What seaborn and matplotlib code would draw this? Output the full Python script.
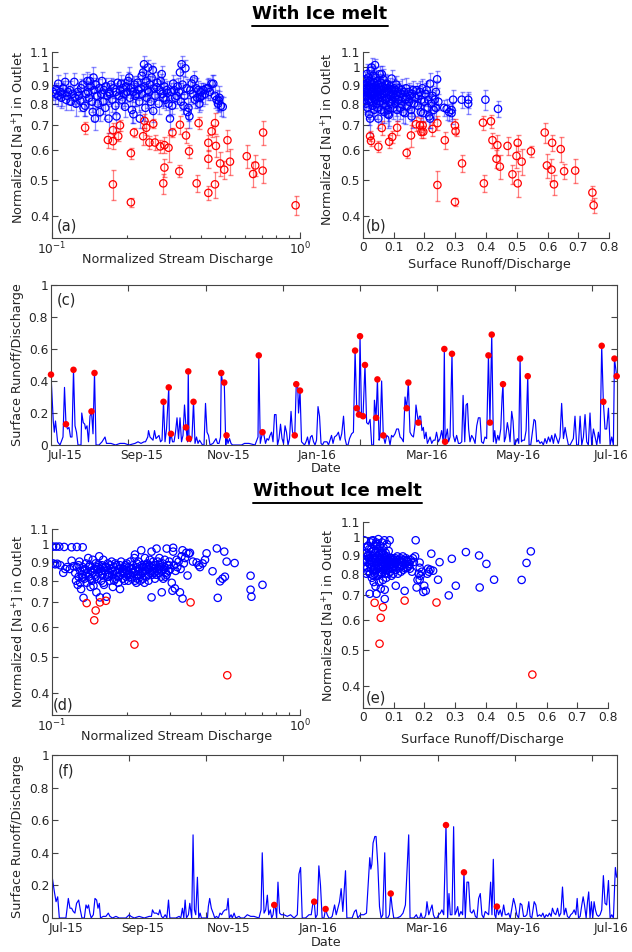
import numpy as np
import seaborn as sns
import matplotlib.pyplot as plt
import matplotlib as mpl
from matplotlib.lines import Line2D
from matplotlib.ticker import FixedLocator, FixedFormatter, NullFormatter, NullLocator, LogLocator

sns.set_style('ticks')
mpl.rcParams['font.family'] = ['DejaVu Sans']
mpl.rcParams['mathtext.fontset'] = 'dejavusans'

BLUE = '#0000ff'
RED = '#ff0000'
INK = '#262626'

# ---------------- axis ticks / labels ----------------
na_ticks = [0.4, 0.5, 0.6, 0.7, 0.8, 0.9, 1.0, 1.1]
na_tick_labels = ['0.4', '0.5', '0.6', '0.7', '0.8', '0.9', '1', '1.1']
q_ticks = [0.1, 1.0]
q_tick_labels = ['$10^{-1}$', '$10^{0}$']
sr_ticks = [0, 0.1, 0.2, 0.3, 0.4, 0.5, 0.6, 0.7, 0.8]
sr_tick_labels = ['0', '0.1', '0.2', '0.3', '0.4', '0.5', '0.6', '0.7', '0.8']
ts_yticks = [0, 0.2, 0.4, 0.6, 0.8, 1.0]
ts_ytick_labels = ['0', '0.2', '0.4', '0.6', '0.8', '1']
# days since start of record
tick_days = [51.5, 103, 154.5, 206, 257.5, 309, 360.5]
label_days = [9.3, 60.7, 118.2, 177.5, 250.4, 311.6, 373]
date_labels = ['Jul-15', 'Sep-15', 'Nov-15', 'Jan-16', 'Mar-16', 'May-16', 'Jul-16']

# ---------------- (a) with ice melt: Na vs discharge ----------------
a_blue_q = [0.101, 0.103, 0.104, 0.106, 0.106, 0.108, 0.109, 0.110, 0.111, 0.113,
            0.114, 0.115, 0.116, 0.118, 0.119, 0.121, 0.123, 0.124, 0.125, 0.127,
            0.128, 0.130, 0.131, 0.133, 0.134, 0.136, 0.137, 0.139, 0.140, 0.141,
            0.142, 0.143, 0.145, 0.146, 0.147, 0.148, 0.149, 0.150, 0.152, 0.153,
            0.155, 0.156, 0.158, 0.159, 0.161, 0.162, 0.164, 0.165, 0.167, 0.169,
            0.170, 0.171, 0.173, 0.175, 0.177, 0.180, 0.181, 0.182, 0.184, 0.186,
            0.188, 0.190, 0.191, 0.193, 0.195, 0.197, 0.199, 0.201, 0.203, 0.205,
            0.206, 0.208, 0.210, 0.212, 0.213, 0.215, 0.217, 0.219, 0.221, 0.223,
            0.225, 0.226, 0.228, 0.230, 0.231, 0.233, 0.235, 0.236, 0.238, 0.240,
            0.241, 0.243, 0.244, 0.246, 0.248, 0.250, 0.252, 0.255, 0.256, 0.258,
            0.261, 0.264, 0.266, 0.269, 0.272, 0.274, 0.277, 0.279, 0.281, 0.284,
            0.287, 0.290, 0.292, 0.295, 0.299, 0.302, 0.305, 0.308, 0.311, 0.314,
            0.318, 0.321, 0.325, 0.328, 0.331, 0.333, 0.336, 0.339, 0.342, 0.345,
            0.349, 0.352, 0.355, 0.358, 0.361, 0.366, 0.370, 0.374, 0.377, 0.381,
            0.385, 0.389, 0.393, 0.395, 0.398, 0.403, 0.408, 0.414, 0.420, 0.427,
            0.433, 0.440, 0.447, 0.454, 0.461, 0.467, 0.470, 0.473, 0.480, 0.488]
a_blue_na = [0.86, 0.85, 0.87, 0.84, 0.905, 0.86, 0.83, 0.85, 0.88, 0.915,
             0.82, 0.84, 0.86, 0.87, 0.81, 0.85, 0.915, 0.83, 0.80, 0.86,
             0.84, 0.815, 0.88, 0.90, 0.78, 0.79, 0.85, 0.92, 0.86, 0.83,
             0.92, 0.89, 0.81, 0.76, 0.94, 0.87, 0.73, 0.90, 0.84, 0.80,
             0.88, 0.76, 0.85, 0.92, 0.81, 0.87, 0.78, 0.89, 0.84, 0.73,
             0.86, 0.85, 0.90, 0.82, 0.88, 0.79, 0.86, 0.74, 0.91, 0.84,
             0.87, 0.905, 0.82, 0.88, 0.85, 0.785, 0.89, 0.86, 0.92, 0.94,
             0.83, 0.88, 0.77, 0.86, 0.75, 0.90, 0.84, 0.85, 0.91, 0.87,
             0.81, 0.73, 0.88, 0.95, 0.85, 0.97, 1.02, 0.89, 0.78, 0.92,
             0.83, 0.87, 1.00, 0.86, 0.90, 0.81, 0.94, 0.985, 0.765, 0.88,
             0.84, 0.885, 0.91, 0.80, 0.87, 0.92, 0.96, 0.85, 0.83, 0.89,
             0.82, 0.87, 0.855, 0.80, 0.73, 0.86, 0.79, 0.905, 0.87, 0.83,
             0.84, 0.89, 0.86, 0.97, 0.81, 1.02, 0.90, 0.79, 0.84, 0.995,
             0.88, 0.76, 0.78, 0.74, 0.87, 0.905, 0.85, 0.93, 0.82, 0.88,
             0.83, 0.87, 0.80, 0.83, 0.86, 0.84, 0.87, 0.85, 0.88, 0.88,
             0.86, 0.905, 0.905, 0.84, 0.82, 0.80, 0.815, 0.83, 0.79, 0.785]
a_blue_err = [0.04, 0.05, 0.04, 0.05, 0.05, 0.04, 0.05, 0.06, 0.04, 0.05,
              0.05, 0.04, 0.06, 0.05, 0.04, 0.05, 0.05, 0.04, 0.06, 0.05,
              0.04, 0.05, 0.05, 0.06, 0.04, 0.05, 0.04, 0.05, 0.06, 0.05,
              0.04, 0.05, 0.05, 0.04, 0.06, 0.05, 0.05, 0.04, 0.05, 0.06,
              0.05, 0.04, 0.05, 0.05, 0.06, 0.04, 0.05, 0.05, 0.04, 0.06,
              0.05, 0.05, 0.04, 0.06, 0.05, 0.04, 0.05, 0.05, 0.06, 0.04,
              0.05, 0.05, 0.04, 0.05, 0.06, 0.05, 0.04, 0.05, 0.05, 0.06,
              0.04, 0.05, 0.06, 0.05, 0.04, 0.05, 0.05, 0.06, 0.04, 0.05,
              0.05, 0.04, 0.05, 0.06, 0.05, 0.04, 0.05, 0.05, 0.06, 0.04,
              0.05, 0.06, 0.05, 0.04, 0.05, 0.05, 0.06, 0.04, 0.05, 0.05,
              0.04, 0.05, 0.06, 0.05, 0.05, 0.04, 0.05, 0.06, 0.05, 0.04,
              0.05, 0.05, 0.04, 0.06, 0.05, 0.05, 0.04, 0.05, 0.06, 0.05,
              0.04, 0.05, 0.05, 0.06, 0.04, 0.05, 0.05, 0.04, 0.06, 0.05,
              0.05, 0.04, 0.05, 0.05, 0.06, 0.04, 0.05, 0.05, 0.04, 0.06,
              0.05, 0.05, 0.04, 0.06, 0.05, 0.05, 0.04, 0.05, 0.05, 0.06,
              0.04, 0.05, 0.05, 0.06, 0.05, 0.04, 0.05, 0.06, 0.05, 0.05]
a_red_q = [0.136, 0.168, 0.176, 0.176, 0.185, 0.188, 0.176, 0.208, 0.208, 0.214,
           0.233, 0.236, 0.240, 0.247, 0.256, 0.260, 0.273, 0.284, 0.295, 0.284,
           0.281, 0.306, 0.328, 0.326, 0.347, 0.357, 0.383, 0.390, 0.427, 0.427,
           0.427, 0.440, 0.454, 0.458, 0.454, 0.476, 0.495, 0.510, 0.522, 0.610,
           0.647, 0.660, 0.707, 0.710, 0.960]
a_red_na = [0.69, 0.64, 0.68, 0.635, 0.655, 0.70, 0.487, 0.436, 0.59, 0.67,
            0.655, 0.72, 0.69, 0.63, 0.707, 0.63, 0.615, 0.62, 0.61, 0.54,
            0.49, 0.67, 0.703, 0.528, 0.658, 0.597, 0.49, 0.71, 0.629, 0.57,
            0.462, 0.675, 0.71, 0.617, 0.487, 0.554, 0.533, 0.639, 0.56, 0.579,
            0.519, 0.547, 0.53, 0.67, 0.428]
a_red_err = [0.025, 0.03, 0.03, 0.03, 0.02, 0.025, 0.045, 0.012, 0.02, 0.02,
             0.035, 0.03, 0.03, 0.025, 0.02, 0.03, 0.025, 0.03, 0.05, 0.03,
             0.03, 0.02, 0.04, 0.02, 0.03, 0.025, 0.025, 0.025, 0.03, 0.03,
             0.02, 0.025, 0.045, 0.04, 0.04, 0.04, 0.03, 0.04, 0.045, 0.04,
             0.04, 0.035, 0.04, 0.05, 0.025]

# ---------------- (b) with ice melt: Na vs surface runoff fraction ----------------
b_blue_sr = [0.002, 0.004, 0.005, 0.006, 0.008, 0.009, 0.010, 0.011, 0.012, 0.013,
             0.014, 0.015, 0.016, 0.017, 0.018, 0.019, 0.020, 0.021, 0.022, 0.023,
             0.024, 0.025, 0.026, 0.027, 0.028, 0.029, 0.030, 0.031, 0.032, 0.033,
             0.034, 0.035, 0.036, 0.037, 0.038, 0.039, 0.040, 0.041, 0.042, 0.043,
             0.044, 0.045, 0.046, 0.047, 0.048, 0.049, 0.050,
             0.051, 0.052, 0.054, 0.055, 0.056, 0.058, 0.059, 0.060, 0.061, 0.062,
             0.064, 0.065, 0.066, 0.068, 0.069, 0.070, 0.072, 0.073, 0.074, 0.076,
             0.077, 0.078, 0.080, 0.081, 0.082, 0.084, 0.085, 0.086, 0.088, 0.090,
             0.091, 0.093, 0.094, 0.096, 0.098, 0.099,
             0.101, 0.103, 0.104, 0.106, 0.108, 0.109, 0.111, 0.113, 0.115, 0.117,
             0.120, 0.122, 0.124, 0.126, 0.128, 0.131, 0.133, 0.136, 0.138, 0.140,
             0.142, 0.145, 0.148, 0.150, 0.153, 0.156, 0.158, 0.160,
             0.163, 0.166, 0.170, 0.174, 0.178, 0.181, 0.185, 0.188, 0.190, 0.193,
             0.196, 0.199, 0.203, 0.207, 0.210, 0.212, 0.215, 0.218, 0.218, 0.222,
             0.226, 0.230, 0.233, 0.237, 0.237, 0.241, 0.245,
             0.264, 0.272, 0.280, 0.288, 0.288, 0.293, 0.321, 0.342, 0.342, 0.398, 0.439]
b_blue_na = [0.87, 0.84, 0.90, 0.82, 0.93, 0.86, 0.80, 0.88, 0.96, 0.84,
             0.91, 0.78, 0.86, 0.94, 0.82, 0.89, 0.75, 0.87, 0.92, 0.73,
             0.85, 0.98, 0.81, 0.88, 1.00, 0.84, 0.90, 0.79, 0.86, 0.95,
             0.83, 0.88, 0.77, 0.91, 0.85, 1.015, 0.82, 0.89, 0.94, 0.80,
             0.87, 0.84, 0.92, 0.78, 0.86, 0.90, 0.73,
             0.83, 0.88, 0.96, 0.81, 0.85, 0.91, 0.77, 0.87, 0.96, 0.83,
             0.89, 0.80, 0.93, 0.85, 0.76, 0.88, 0.82, 0.90, 0.79, 0.86,
             0.905, 0.83, 0.88, 0.75, 0.77, 0.746, 0.86, 0.81, 0.89, 0.84,
             0.80, 0.934, 0.87, 0.82, 0.85, 0.78,
             0.88, 0.83, 0.87, 0.80, 0.90, 0.843, 0.77, 0.86, 0.82, 0.88,
             0.78, 0.85, 0.80, 0.87, 0.83, 0.76, 0.86, 0.755, 0.82, 0.88,
             0.835, 0.79, 0.86, 0.81, 0.84, 0.77, 0.74, 0.85,
             0.87, 0.80, 0.83, 0.87, 0.79, 0.84, 0.86, 0.76, 0.82, 0.88,
             0.755, 0.81, 0.85, 0.87, 0.78, 0.82, 0.74, 0.905, 0.73, 0.80,
             0.84, 0.77, 0.82, 0.86, 0.78, 0.93, 0.81,
             0.78, 0.775, 0.76, 0.755, 0.77, 0.82, 0.82, 0.82, 0.80, 0.82, 0.775]
b_blue_err = [0.05, 0.04, 0.05, 0.06, 0.04, 0.05, 0.05, 0.04, 0.06, 0.05,
              0.04, 0.05, 0.05, 0.06, 0.04, 0.05, 0.05, 0.04, 0.05, 0.06,
              0.05, 0.04, 0.05, 0.05, 0.06, 0.04, 0.05, 0.05, 0.04, 0.06,
              0.05, 0.05, 0.04, 0.06, 0.05, 0.04, 0.05, 0.05, 0.06, 0.04,
              0.05, 0.05, 0.04, 0.05, 0.06, 0.05, 0.04,
              0.05, 0.06, 0.05, 0.04, 0.05, 0.05, 0.06, 0.04, 0.05, 0.05,
              0.04, 0.05, 0.06, 0.05, 0.05, 0.04, 0.05, 0.06, 0.05, 0.04,
              0.05, 0.05, 0.04, 0.06, 0.05, 0.05, 0.04, 0.05, 0.05, 0.06,
              0.04, 0.05, 0.05, 0.06, 0.04, 0.05,
              0.05, 0.04, 0.05, 0.06, 0.05, 0.04, 0.05, 0.05, 0.06, 0.04,
              0.05, 0.05, 0.04, 0.06, 0.05, 0.05, 0.04, 0.05, 0.05, 0.06,
              0.04, 0.05, 0.05, 0.04, 0.06, 0.05, 0.05, 0.04,
              0.05, 0.06, 0.05, 0.04, 0.05, 0.05, 0.06, 0.04, 0.05, 0.05,
              0.04, 0.05, 0.06, 0.05, 0.04, 0.05, 0.05, 0.06, 0.04, 0.05,
              0.05, 0.04, 0.05, 0.06, 0.05, 0.05, 0.04,
              0.04, 0.05, 0.04, 0.05, 0.04, 0.05, 0.04, 0.04, 0.05, 0.05, 0.04]
b_red_sr = [0.023, 0.026, 0.050, 0.061, 0.085, 0.095, 0.111, 0.142, 0.156, 0.172,
            0.185, 0.190, 0.194, 0.196, 0.226, 0.242, 0.242, 0.266, 0.299, 0.301,
            0.299, 0.322, 0.390, 0.393, 0.416, 0.421, 0.434, 0.437, 0.445, 0.470,
            0.486, 0.499, 0.503, 0.503, 0.516, 0.546, 0.591, 0.598, 0.615, 0.613,
            0.621, 0.643, 0.654, 0.690, 0.746, 0.750]
b_red_na = [0.655, 0.636, 0.614, 0.689, 0.633, 0.652, 0.69, 0.591, 0.658, 0.705,
            0.701, 0.672, 0.70, 0.673, 0.685, 0.71, 0.485, 0.639, 0.70, 0.675,
            0.437, 0.554, 0.712, 0.49, 0.718, 0.639, 0.57, 0.62, 0.543, 0.617,
            0.518, 0.58, 0.629, 0.49, 0.56, 0.597, 0.67, 0.547, 0.629, 0.533,
            0.487, 0.605, 0.528, 0.53, 0.463, 0.428]
b_red_err = [0.02, 0.02, 0.02, 0.03, 0.025, 0.025, 0.03, 0.02, 0.045, 0.03,
             0.03, 0.025, 0.02, 0.025, 0.03, 0.03, 0.045, 0.035, 0.03, 0.02,
             0.012, 0.03, 0.03, 0.025, 0.03, 0.03, 0.03, 0.04, 0.04, 0.035,
             0.03, 0.04, 0.03, 0.04, 0.045, 0.02, 0.04, 0.04, 0.03, 0.035,
             0.03, 0.045, 0.025, 0.04, 0.02, 0.02]

# ---------------- (c) with ice melt time series ----------------
c_day = [0, 1.5, 2.2, 3, 4.4, 6, 8, 9, 10, 11, 12, 13, 14, 15, 16, 17, 18, 20, 20.5, 21.5,
         22.5, 23, 24, 25, 26, 27, 28, 29, 30, 32, 34, 36, 37, 40, 43, 46, 49, 52, 56, 58,
         60, 62, 63, 64.5, 65, 66, 67, 68, 69, 70, 71, 72, 73, 74, 75, 76, 77, 78.5, 79, 80,
         81, 82, 83, 84, 85, 86, 87, 88, 89, 90, 91, 91.5, 92, 93, 94, 95, 96, 97, 98, 99,
         101, 102, 103, 104, 105, 106, 108, 110, 111, 112, 113, 113.5, 114.5, 115.5, 116.5, 117, 118, 119, 120, 121,
         124, 127, 129, 132, 136, 138, 138.5, 139.5, 141, 142, 143, 144, 145, 146, 147, 148, 149, 150, 151, 152,
         153, 154, 155, 156, 157, 158, 159, 160, 161, 162.5, 163.5, 164.5, 165, 166, 167, 168, 169, 170, 171, 172,
         173, 174, 175, 176, 177, 178, 179, 180, 181, 182, 184, 185, 187, 188, 189, 190.4, 191.6, 192.7, 193.8, 195,
         196, 197, 198, 199, 200.4, 201.6, 202.7, 203.8, 205.3, 206, 207, 208, 209.3, 210.4, 211.5, 212.7, 213.8, 215, 215.6, 216.7,
         217.6, 218.7, 219.3, 220.4, 221.5, 222.7, 223.8, 225, 226, 227, 228, 229.3, 230.4, 231.6, 232.7, 233.8, 234.9, 236, 237.1, 238.2,
         239.3, 240.4, 241.6, 242.7, 243.3, 244.9, 245.6, 246.4, 247.3, 248.2, 249, 250, 250.9, 251.8, 252.7, 253.8, 254.9, 256, 257, 258.2,
         259.3, 260.4, 261.5, 262.2, 262.7, 264.2, 265, 266, 267.3, 268.2, 269.3, 270.4, 271.6, 272.7, 273.8, 274.7, 275.8, 276.7, 277.6, 278.4,
         279.3, 280.4, 281.6, 282.7, 283.8, 284.9, 286, 287, 288.2, 289.3, 290.4, 291.6, 292.6, 293.8, 294.9, 295.8, 296.7, 297.8, 298.7, 299.8,
         300.7, 301.3, 302.2, 303.1, 304.2, 305.1, 306, 307.1, 308, 308.9, 310, 310.9, 311.8, 312.7, 313.6, 314.4, 315.6, 316.7, 317.8, 318.7,
         319.8, 320.9, 322, 322.9, 323.8, 324.9, 326, 327.1, 328.2, 329.3, 330.4, 331.6, 332.7, 333.8, 334.9, 336, 337.1, 338.2, 339.3, 340.4,
         341.6, 342.7, 343.8, 344.9, 346, 347.1, 348.2, 349.3, 350.4, 351.6, 352.7, 353.8, 354.9, 356, 357.1, 358.2, 359.3, 360.4, 361.6, 362.7,
         363.8, 364.9, 366, 367.1, 368.2, 369.3, 370.4, 371.6, 372.7, 373.8, 374.9, 375.6, 377.1]
c_ratio = [0.44, 0.15, 0.08, 0.15, 0.02, 0.0, 0.05, 0.36, 0.13, 0.10, 0.11, 0.05, 0.05, 0.47, 0.12, 0.08, 0.0, 0.0, 0.20, 0.14,
           0.13, 0.10, 0.12, 0.02, 0.18, 0.21, 0.07, 0.45, 0.0, 0.0, 0.02, 0.05, 0.01, 0.01, 0.0, 0.01, 0.01, 0.0, 0.01, 0.02,
           0.01, 0.02, 0.02, 0.05, 0.09, 0.05, 0.04, 0.03, 0.09, 0.04, 0.05, 0.06, 0.02, 0.03, 0.27, 0.02, 0.10, 0.36, 0.01, 0.07,
           0.02, 0.02, 0.08, 0.17, 0.04, 0.17, 0.02, 0.06, 0.25, 0.11, 0.02, 0.46, 0.04, 0.02, 0.05, 0.27, 0.01, 0.05, 0.01, 0.03,
           0.0, 0.0, 0.26, 0.08, 0.06, 0.0, 0.01, 0.04, 0.01, 0.01, 0.05, 0.45, 0.38, 0.39, 0.0, 0.06, 0.01, 0.04, 0.01, 0.0,
           0.0, 0.0, 0.01, 0.01, 0.0, 0.05, 0.56, 0.01, 0.08, 0.06, 0.01, 0.04, 0.03, 0.06, 0.08, 0.02, 0.19, 0.19, 0.0, 0.04,
           0.13, 0.04, 0.01, 0.12, 0.08, 0.0, 0.04, 0.21, 0.08, 0.06, 0.38, 0.36, 0.20, 0.34, 0.02, 0.01, 0.0, 0.02, 0.05, 0.0,
           0.05, 0.06, 0.02, 0.0, 0.03, 0.24, 0.18, 0.01, 0.0, 0.02, 0.02, 0.0, 0.06, 0.01, 0.05, 0.06, 0.08, 0.03, 0.07, 0.18,
           0.04, 0.0, 0.0, 0.04, 0.07, 0.08, 0.59, 0.23, 0.19, 0.68, 0.17, 0.18, 0.50, 0.14, 0.13, 0.16, 0.0, 0.0, 0.28, 0.17,
           0.41, 0.03, 0.05, 0.40, 0.06, 0.01, 0.06, 0.05, 0.0, 0.06, 0.05, 0.07, 0.10, 0.10, 0.05, 0.04, 0.02, 0.30, 0.23, 0.39,
           0.08, 0.06, 0.05, 0.13, 0.25, 0.14, 0.18, 0.18, 0.09, 0.11, 0.04, 0.08, 0.01, 0.03, 0.05, 0.01, 0.03, 0.03, 0.08, 0.02,
           0.04, 0.09, 0.02, 0.60, 0.02, 0.10, 0.02, 0.05, 0.57, 0.06, 0.02, 0.06, 0.01, 0.01, 0.02, 0.31, 0.02, 0.25, 0.26, 0.10,
           0.02, 0.06, 0.04, 0.01, 0.12, 0.17, 0.17, 0.02, 0.01, 0.05, 0.04, 0.56, 0.14, 0.69, 0.02, 0.09, 0.01, 0.06, 0.03, 0.10,
           0.30, 0.38, 0.02, 0.05, 0.14, 0.09, 0.02, 0.21, 0.15, 0.0, 0.02, 0.04, 0.01, 0.54, 0.02, 0.03, 0.03, 0.09, 0.43, 0.0,
           0.0, 0.08, 0.16, 0.15, 0.02, 0.03, 0.01, 0.02, 0.0, 0.04, 0.01, 0.05, 0.02, 0.06, 0.01, 0.07, 0.04, 0.01, 0.05, 0.26,
           0.04, 0.11, 0.05, 0.0, 0.0, 0.02, 0.04, 0.18, 0.0, 0.0, 0.18, 0.0, 0.05, 0.19, 0.02, 0.0, 0.20, 0.0, 0.10, 0.05,
           0.0, 0.08, 0.01, 0.62, 0.27, 0.10, 0.10, 0.23, 0.0, 0.05, 0.0, 0.54, 0.43]
c_red_day = [0, 10, 15, 27, 29, 75, 78.5, 80, 90, 91.5, 92, 95, 113.5, 115.5, 117, 138.5, 141, 162.5, 163.5, 166,
             202.7, 203.8, 205.3, 206, 208, 209.3, 216.7, 217.6, 221.5, 237.1, 238.2, 244.9, 262.2, 262.7, 267.3,
             291.6, 292.6, 293.8, 301.3, 312.7, 317.8, 367.1, 368.2, 375.6, 377.1]
c_red_ratio = [0.44, 0.13, 0.47, 0.21, 0.45, 0.27, 0.36, 0.07, 0.11, 0.46, 0.04, 0.27, 0.45, 0.39, 0.06, 0.56, 0.08, 0.06, 0.38, 0.34,
               0.59, 0.23, 0.19, 0.68, 0.18, 0.50, 0.17, 0.41, 0.06, 0.23, 0.39, 0.14, 0.60, 0.02, 0.57,
               0.56, 0.14, 0.69, 0.38, 0.54, 0.43, 0.62, 0.27, 0.54, 0.43]

# ---------------- (d) without ice melt: Na vs discharge ----------------
d_blue_q = [0.101, 0.104, 0.107, 0.112, 0.120, 0.126, 0.133, 0.101, 0.103, 0.105,
            0.108, 0.111, 0.113, 0.115, 0.118, 0.120, 0.122,
            0.124, 0.125, 0.126, 0.127, 0.128, 0.129, 0.130, 0.131, 0.132, 0.133,
            0.134, 0.135, 0.136, 0.137, 0.138, 0.139, 0.140, 0.141, 0.142, 0.143,
            0.144, 0.145, 0.146, 0.147, 0.148, 0.149, 0.150, 0.151, 0.152, 0.153,
            0.154, 0.155, 0.156,
            0.157, 0.158, 0.159, 0.160, 0.161, 0.162, 0.163, 0.165, 0.166, 0.167,
            0.168, 0.170, 0.171, 0.172, 0.174, 0.175, 0.176, 0.178, 0.179, 0.180,
            0.182, 0.183, 0.185, 0.186, 0.188, 0.189, 0.190, 0.192, 0.193, 0.195,
            0.196, 0.198, 0.199,
            0.201, 0.203, 0.204, 0.206, 0.207, 0.209, 0.210, 0.212, 0.213, 0.215,
            0.216, 0.217, 0.219, 0.220, 0.222, 0.223, 0.225, 0.227, 0.229, 0.230,
            0.232, 0.233, 0.235, 0.237, 0.238, 0.240, 0.242, 0.244, 0.245, 0.247,
            0.249,
            0.251, 0.252, 0.252, 0.254, 0.256, 0.258, 0.260, 0.262, 0.264, 0.265,
            0.267, 0.269, 0.271, 0.273, 0.275, 0.277, 0.279, 0.281, 0.283, 0.285,
            0.288, 0.290, 0.292, 0.295, 0.297, 0.300, 0.304, 0.306, 0.308, 0.308,
            0.310, 0.313, 0.315, 0.318, 0.320, 0.324, 0.328, 0.330, 0.333, 0.336,
            0.336, 0.340, 0.344, 0.348, 0.352, 0.356, 0.360,
            0.370, 0.383, 0.390, 0.395, 0.405, 0.414, 0.420, 0.444, 0.462, 0.466,
            0.476, 0.487, 0.495, 0.498, 0.506, 0.545, 0.632, 0.632, 0.637, 0.706,
            0.128, 0.133, 0.137, 0.141, 0.146, 0.150, 0.154, 0.158, 0.161, 0.164,
            0.168, 0.172, 0.176, 0.180, 0.184, 0.188, 0.192, 0.196, 0.200, 0.204,
            0.208, 0.212, 0.216, 0.220, 0.224, 0.228, 0.232, 0.236, 0.240, 0.244,
            0.248, 0.253, 0.258, 0.263, 0.268, 0.273, 0.278, 0.284, 0.290, 0.296,
            0.130, 0.135, 0.143, 0.152, 0.160, 0.170, 0.178, 0.186, 0.194, 0.202,
            0.211, 0.221, 0.231, 0.241, 0.257, 0.270, 0.287]
d_blue_na = [0.987, 0.987, 0.987, 0.985, 0.983, 0.985, 0.983, 0.89, 0.885, 0.888,
             0.88, 0.84, 0.86, 0.87, 0.86, 0.905, 0.875,
             0.84, 0.80, 0.87, 0.78, 0.82, 0.90, 0.85, 0.76, 0.83, 0.87,
             0.72, 0.81, 0.86, 0.89, 0.79, 0.84, 0.92, 0.82, 0.88, 0.77,
             0.85, 0.80, 0.91, 0.775, 0.86, 0.83, 0.89, 0.745, 0.81, 0.87,
             0.84, 0.93, 0.722,
             0.86, 0.80, 0.88, 0.83, 0.91, 0.78, 0.85, 0.87, 0.725, 0.82,
             0.89, 0.84, 0.80, 0.86, 0.90, 0.83, 0.77, 0.87, 0.85, 0.81,
             0.88, 0.84, 0.79, 0.86, 0.76, 0.83, 0.90, 0.85, 0.81, 0.87,
             0.84, 0.88, 0.82,
             0.85, 0.80, 0.87, 0.83, 0.90, 0.86, 0.81, 0.88, 0.84, 0.92,
             0.94, 0.85, 0.79, 0.87, 0.83, 0.90, 0.86, 0.80, 0.965, 0.88,
             0.84, 0.81, 0.87, 0.92, 0.85, 0.82, 0.89, 0.86, 0.80, 0.88,
             0.84,
             0.87, 0.957, 0.722, 0.83, 0.90, 0.86, 0.81, 0.88, 0.975, 0.85,
             0.90, 0.84, 0.92, 0.87, 0.82, 0.745, 0.89, 0.81, 0.86, 0.91,
             0.84, 0.975, 0.88, 0.85, 0.90, 0.86, 0.79, 0.752, 0.98, 0.957,
             0.88, 0.763, 0.85, 0.91, 0.87, 0.90, 0.745, 0.86, 0.93, 0.965,
             0.717, 0.89, 0.92, 0.95, 0.826, 0.945, 0.95,
             0.90, 0.895, 0.88, 0.87, 0.89, 0.91, 0.947, 0.848, 0.976, 0.72,
             0.797, 0.81, 0.957, 0.82, 0.90, 0.892, 0.825, 0.757, 0.725, 0.78,
             0.88, 0.815, 0.83, 0.87, 0.84, 0.82, 0.88, 0.85, 0.79, 0.87,
             0.83, 0.88, 0.85, 0.89, 0.82, 0.88, 0.84, 0.80, 0.89, 0.84,
             0.82, 0.86, 0.80, 0.89, 0.85, 0.83, 0.87, 0.79, 0.88, 0.83,
             0.91, 0.85, 0.88, 0.83, 0.86, 0.89, 0.85, 0.87, 0.83, 0.88,
             0.79, 0.85, 0.81, 0.86, 0.87, 0.82, 0.80, 0.82, 0.86, 0.83,
             0.84, 0.81, 0.85, 0.87, 0.84, 0.86, 0.82]
d_red_q = [0.138, 0.148, 0.150, 0.156, 0.165, 0.215, 0.362, 0.509]
d_red_na = [0.697, 0.627, 0.666, 0.700, 0.707, 0.54, 0.70, 0.447]

# ---------------- (e) without ice melt: Na vs surface runoff fraction ----------------
e_blue_sr = [0.004, 0.006, 0.008, 0.010, 0.012, 0.014, 0.015, 0.016, 0.018, 0.019,
             0.020, 0.021, 0.022, 0.023, 0.024, 0.025, 0.026, 0.027, 0.028, 0.029,
             0.030, 0.031, 0.032, 0.033, 0.034, 0.035, 0.036, 0.037, 0.038, 0.039,
             0.040, 0.041, 0.042, 0.043, 0.044, 0.045, 0.046, 0.047, 0.048, 0.049,
             0.050, 0.051, 0.052, 0.053, 0.054, 0.055, 0.056, 0.057, 0.058, 0.059,
             0.060, 0.061, 0.062, 0.063, 0.064, 0.065, 0.066, 0.067, 0.068, 0.069,
             0.070, 0.071, 0.071, 0.072, 0.073, 0.074, 0.075, 0.076, 0.077, 0.078,
             0.079, 0.080, 0.082, 0.083, 0.084, 0.085, 0.087, 0.088, 0.089, 0.090,
             0.092, 0.093, 0.095, 0.096, 0.098, 0.099,
             0.101, 0.103, 0.105, 0.107, 0.108, 0.110, 0.112, 0.114, 0.116, 0.118,
             0.120, 0.122, 0.124, 0.126, 0.128, 0.130, 0.132, 0.134, 0.136, 0.138,
             0.140, 0.142, 0.145, 0.148, 0.150, 0.153, 0.156, 0.160, 0.163, 0.166,
             0.170, 0.172, 0.175, 0.178, 0.182, 0.185, 0.185, 0.185, 0.188, 0.192,
             0.197, 0.200,
             0.205, 0.210, 0.212, 0.215, 0.220, 0.223, 0.229, 0.245, 0.250, 0.280,
             0.290, 0.303, 0.336, 0.379, 0.381, 0.403, 0.428, 0.518, 0.534, 0.548,
             0.011, 0.017, 0.022, 0.027, 0.031, 0.036, 0.041, 0.045, 0.049, 0.053,
             0.057, 0.061, 0.065, 0.069, 0.073, 0.077, 0.081, 0.086, 0.091, 0.097,
             0.104, 0.111, 0.119, 0.127, 0.135, 0.144, 0.152,
             0.013, 0.024, 0.034, 0.044, 0.054, 0.064, 0.074, 0.084, 0.094]
e_blue_na = [0.983, 0.84, 0.87, 0.91, 0.86, 0.83, 0.89, 0.95, 0.81, 0.88,
             0.93, 0.85, 0.707, 0.80, 0.90, 0.97, 0.83, 0.87, 0.98, 0.78,
             0.86, 0.92, 0.82, 0.983, 0.89, 0.76, 0.84, 0.95, 0.80, 0.88,
             0.91, 0.74, 0.85, 0.97, 0.707, 0.82, 0.89, 0.93, 0.79, 0.86,
             0.99, 0.83, 0.90, 0.76, 0.87, 0.95, 0.81, 0.88, 0.73, 0.85,
             0.92, 0.80, 0.97, 0.84, 0.89, 0.77, 0.86, 0.94, 0.82, 0.88,
             0.983, 0.725, 0.685, 0.85, 0.80, 0.91, 0.87, 0.78, 0.84, 0.96,
             0.89, 0.82, 0.86, 0.80, 0.92, 0.84, 0.983, 0.88, 0.81, 0.85,
             0.87, 0.79, 0.83, 0.88, 0.86, 0.80,
             0.87, 0.84, 0.88, 0.743, 0.82, 0.86, 0.89, 0.80, 0.85, 0.87,
             0.83, 0.88, 0.81, 0.86, 0.84, 0.89, 0.82, 0.87, 0.72, 0.85,
             0.88, 0.865, 0.83, 0.86, 0.84, 0.825, 0.87, 0.81, 0.88, 0.86,
             0.89, 0.983, 0.735, 0.77, 0.80, 0.857, 0.83, 0.771, 0.79, 0.81,
             0.715, 0.743,
             0.72, 0.80, 0.825, 0.81, 0.82, 0.905, 0.815, 0.771, 0.859, 0.70,
             0.877, 0.743, 0.914, 0.895, 0.735, 0.85, 0.771, 0.77, 0.855, 0.918,
             0.80, 0.90, 0.85, 0.93, 0.88, 0.82, 0.86, 0.96, 0.84, 0.80,
             0.91, 0.86, 0.83, 0.90, 0.84, 0.87, 0.85, 0.83, 0.88, 0.84,
             0.85, 0.87, 0.84, 0.86, 0.83, 0.87, 0.85,
             0.94, 0.87, 0.79, 0.83, 0.88, 0.91, 0.82, 0.87, 0.85]
e_red_sr = [0.038, 0.065, 0.058, 0.054, 0.136, 0.240, 0.553]
e_red_na = [0.669, 0.651, 0.61, 0.52, 0.678, 0.670, 0.43]

# ---------------- (f) without ice melt time series ----------------
f_day = [0, 1.6, 2.7, 3.8, 4.9, 7, 9.3, 10.9, 12, 13.1, 14.2, 15.3, 16.4, 17.8, 18.9, 20, 21.6, 22.7, 23.6, 24.4,
         25.3, 26.2, 27.6, 28.7, 29.8, 30.7, 31.6, 32.4, 34.2, 36, 37.6, 38.7, 40.4, 42.7, 44.9, 49.3, 51.6, 52.7, 54.9, 58.2,
         61.6, 64.9, 66.4, 67.1, 68.2, 69.8, 71.1, 72, 73.1, 74.2, 75.6, 76.7, 77.8, 78.7, 82.7, 84.9, 86, 87.1, 88, 88.9,
         89.8, 91.1, 92, 92.7, 93.3, 94.2, 95.1, 96, 97.1, 98, 98.9, 99.8, 103.8, 104.4, 105.3, 106.4, 107.6, 108.7, 109.8, 111.1,
         112.2, 113.3, 114.4, 115.6, 116.7, 117.6, 118.4, 119.6, 120.4, 121.6, 122.7, 124.9, 126, 128.2, 130.4, 132.7, 134.9, 138.2, 139.6, 140.4,
         141.6, 142.7, 143.8, 144.7, 145.8, 146.7, 147.6, 148.4, 149.3, 150, 150.9, 152, 153.1, 154.9, 157.1, 159.3, 161.6, 163.8, 164.9, 166,
         167.1, 169.3, 171.6, 173.1, 174.2, 175.1, 176, 177.1, 178.2, 179.3, 180.4, 181.6, 182.7, 183.8, 184.9, 186, 187.1, 188.7, 189.8, 190.9,
         192, 193.1, 194.2, 196, 196.9, 198.2, 200.4, 202, 203.1, 204.2, 206, 208.2, 210, 211.1, 212.2, 212.9, 213.6, 214.4, 215.6, 216.4,
         217.6, 218.7, 219.8, 220.9, 222.2, 223.1, 224.2, 225.3, 226.2, 227.1, 228.2, 230.4, 232.7, 234.4, 236, 237.1, 238.2, 239.1, 241.6, 243.3,
         244.2, 245.6, 246.4, 247.3, 248.7, 249.6, 250.4, 251.6, 252.7, 253.8, 254.7, 255.6, 257.1, 258.2, 259.3, 260.4, 261.6, 263.1, 264.2, 265.1,
         266, 267.1, 268.2, 269.1, 270, 270.9, 271.8, 273.1, 274.2, 275.1, 276, 277.1, 278.2, 279.3, 280.4, 281.6, 282.7, 283.8, 284.9, 286,
         287.1, 288.2, 289.3, 290.4, 291.6, 292.9, 293.8, 294.7, 295.6, 296.4, 297.1, 298.2, 299.3, 300.4, 301.6, 302.7, 303.8, 304.9, 306, 307.1,
         308.2, 309.3, 310.4, 311.6, 312.7, 313.8, 314.9, 316, 317.1, 318.4, 319.3, 320.4, 322, 323.1, 324.2, 325.6, 326.7, 327.8, 328.9, 330,
         331.1, 332.2, 333.3, 334.2, 335.3, 336.4, 337.6, 338.7, 339.8, 340.9, 342, 343.1, 344.2, 345.3, 346.4, 347.6, 348.7, 349.8, 350.7, 351.6,
         352.7, 353.8, 354.7, 355.6, 356.7, 357.6, 358.4, 359.3, 360.2, 361.1, 362, 362.9, 363.8, 364.9, 366, 367.1, 368.2, 369.3, 370.4, 371.6,
         372.7, 373.8, 374.9, 376.2, 377.1]
f_ratio = [0.26, 0.16, 0.10, 0.13, 0.0, 0.0, 0.0, 0.12, 0.06, 0.06, 0.04, 0.03, 0.09, 0.11, 0.05, 0.0, 0.0, 0.08, 0.06, 0.08,
           0.03, 0.0, 0.02, 0.12, 0.11, 0.06, 0.09, 0.0, 0.01, 0.01, 0.03, 0.01, 0.0, 0.01, 0.0, 0.0, 0.02, 0.01, 0.0, 0.01,
           0.0, 0.01, 0.01, 0.05, 0.03, 0.03, 0.02, 0.05, 0.01, 0.0, 0.02, 0.0, 0.11, 0.0, 0.0, 0.01, 0.0, 0.06, 0.0, 0.11,
           0.0, 0.02, 0.09, 0.04, 0.0, 0.51, 0.05, 0.02, 0.25, 0.0, 0.03, 0.0, 0.0, 0.07, 0.12, 0.06, 0.03, 0.0, 0.01, 0.0,
           0.03, 0.02, 0.04, 0.05, 0.05, 0.12, 0.0, 0.02, 0.0, 0.03, 0.0, 0.01, 0.0, 0.0, 0.02, 0.01, 0.01, 0.0, 0.05, 0.40,
           0.03, 0.05, 0.14, 0.02, 0.05, 0.0, 0.02, 0.08, 0.06, 0.0, 0.22, 0.03, 0.02, 0.02, 0.01, 0.02, 0.0, 0.02, 0.27, 0.31,
           0.0, 0.0, 0.02, 0.02, 0.09, 0.10, 0.0, 0.02, 0.32, 0.20, 0.0, 0.0, 0.055, 0.02, 0.0, 0.0, 0.01, 0.08, 0.02, 0.06,
           0.10, 0.18, 0.04, 0.29, 0.0, 0.0, 0.0, 0.04, 0.05, 0.0, 0.02, 0.02, 0.03, 0.20, 0.37, 0.30, 0.33, 0.46, 0.50, 0.50,
           0.32, 0.07, 0.0, 0.02, 0.40, 0.0, 0.0, 0.02, 0.15, 0.07, 0.0, 0.0, 0.01, 0.03, 0.08, 0.30, 0.51, 0.0, 0.0, 0.02,
           0.0, 0.0, 0.03, 0.0, 0.0, 0.02, 0.10, 0.02, 0.05, 0.08, 0.02, 0.0, 0.0, 0.02, 0.03, 0.05, 0.02, 0.57, 0.0, 0.15,
           0.02, 0.02, 0.56, 0.02, 0.04, 0.07, 0.01, 0.04, 0.02, 0.28, 0.0, 0.22, 0.22, 0.04, 0.03, 0.05, 0.01, 0.0, 0.12, 0.15,
           0.02, 0.0, 0.04, 0.03, 0.02, 0.22, 0.02, 0.36, 0.02, 0.0, 0.07, 0.02, 0.05, 0.01, 0.08, 0.02, 0.02, 0.03, 0.0, 0.06,
           0.12, 0.08, 0.02, 0.0, 0.09, 0.08, 0.01, 0.01, 0.02, 0.10, 0.01, 0.0, 0.10, 0.08, 0.01, 0.02, 0.01, 0.03, 0.0, 0.02,
           0.01, 0.03, 0.01, 0.06, 0.03, 0.02, 0.06, 0.01, 0.03, 0.19, 0.02, 0.06, 0.01, 0.0, 0.02, 0.03, 0.05, 0.02, 0.12, 0.0,
           0.01, 0.08, 0.13, 0.08, 0.0, 0.10, 0.16, 0.0, 0.10, 0.0, 0.10, 0.05, 0.02, 0.01, 0.02, 0.05, 0.26, 0.09, 0.08, 0.23,
           0.0, 0.02, 0.0, 0.31, 0.25]
f_red_day = [148.4, 175.1, 182.7, 226.2, 263.1, 275.1, 297.1]
f_red_ratio = [0.08, 0.10, 0.055, 0.15, 0.57, 0.28, 0.07]


fig = plt.figure(figsize=(6.32, 9.52), dpi=100)
W, H = 632, 952


def px_axes(left, top, right, bottom):
    return fig.add_axes([left / W, 1 - bottom / H, (right - left) / W, (bottom - top) / H])


def base_style(ax):
    for sp in ax.spines.values():
        sp.set_color('#444444')
        sp.set_linewidth(0.8)
    ax.tick_params(which='both', direction='in', colors='#444444', labelcolor=INK,
                   labelsize=8.8, width=0.8)


def na_panel(ax, bx, by, rx, ry, berr, rerr, letter, logx, lx, ly, ylx, yly, tx, ty):
    if berr is not None:
        ax.errorbar(bx, by, yerr=berr, fmt='none', ecolor=BLUE, alpha=0.45,
                    elinewidth=0.9, capsize=1.8, zorder=1)
        ax.errorbar(rx, ry, yerr=rerr, fmt='none', ecolor=RED, alpha=0.5,
                    elinewidth=0.9, capsize=1.8, zorder=1)
    sns.scatterplot(x=bx, y=by, ax=ax, marker='o', s=28, facecolor='none',
                    edgecolor=BLUE, linewidth=0.9, zorder=3)
    sns.scatterplot(x=rx, y=ry, ax=ax, marker='o', s=28, facecolor='none',
                    edgecolor=RED, linewidth=0.9, zorder=4)
    ax.set_yscale('log')
    ax.set_ylim(0.35, 1.1)
    ax.yaxis.set_major_locator(FixedLocator(na_ticks))
    ax.yaxis.set_major_formatter(FixedFormatter(na_tick_labels))
    ax.yaxis.set_minor_locator(NullLocator())
    if logx:
        ax.set_xscale('log')
        ax.set_xlim(0.1, 1.0)
        ax.xaxis.set_major_locator(FixedLocator(q_ticks))
        ax.xaxis.set_major_formatter(FixedFormatter(q_tick_labels))
        ax.xaxis.set_minor_locator(LogLocator(base=10, subs=np.arange(2, 10)))
        ax.xaxis.set_minor_formatter(NullFormatter())
        ax.set_xlabel('Normalized Stream Discharge', fontsize=9.2, color=INK)
    else:
        ax.set_xlim(0, 0.8)
        ax.xaxis.set_major_locator(FixedLocator(sr_ticks))
        ax.xaxis.set_major_formatter(FixedFormatter(sr_tick_labels))
        ax.xaxis.set_minor_locator(NullLocator())
        ax.set_xlabel('Surface Runoff/Discharge', fontsize=9.2, color=INK)
    ax.set_ylabel('Normalized [Na$^{+}$] in Outlet', fontsize=9.2, color=INK)
    sns.despine(ax=ax)
    base_style(ax)
    ax.tick_params(which='major', length=4, pad=2)
    ax.tick_params(which='minor', length=2.5)
    ax.xaxis.label.set_va('center')
    ax.yaxis.label.set_va('center')
    ax.xaxis.set_label_coords(lx, ly)
    ax.yaxis.set_label_coords(ylx, yly)
    ax.text(tx, ty, letter, transform=ax.transAxes, fontsize=10.5, color=INK,
            ha='left', va='center')


def ts_panel(ax, days, vals, rdays, rvals, letter, lx, ly, ylx, ty):
    sns.lineplot(x=days, y=vals, ax=ax, color=BLUE, linewidth=0.85,
                 estimator=None, sort=False, errorbar=None)
    sns.scatterplot(x=rdays, y=rvals, ax=ax, color=RED, s=22, edgecolor='none',
                    zorder=4, clip_on=False)
    ax.set_xlim(0, 377.3)
    ax.set_ylim(0, 1)
    ax.yaxis.set_major_locator(FixedLocator(ts_yticks))
    ax.yaxis.set_major_formatter(FixedFormatter(ts_ytick_labels))
    ax.xaxis.set_major_locator(FixedLocator(tick_days))
    ax.xaxis.set_major_formatter(NullFormatter())
    ax.xaxis.set_minor_locator(FixedLocator(label_days))
    ax.xaxis.set_minor_formatter(FixedFormatter(date_labels))
    base_style(ax)
    ax.tick_params(axis='x', which='major', length=4, top=True, bottom=True)
    ax.tick_params(axis='x', which='minor', length=0, pad=3)
    ax.tick_params(axis='y', length=4, left=True, right=True, pad=2)
    ax.set_xlabel('Date', fontsize=9.2, color=INK)
    ax.set_ylabel('Surface Runoff/Discharge', fontsize=9.2, color=INK)
    ax.xaxis.label.set_va('center')
    ax.yaxis.label.set_va('center')
    ax.xaxis.set_label_coords(lx, ly)
    ax.yaxis.set_label_coords(ylx, 0.5)
    ax.text(0.011, ty, letter, transform=ax.transAxes, fontsize=10.5, color=INK,
            ha='left', va='center')


ax_a = px_axes(52, 52, 300, 238)
na_panel(ax_a, a_blue_q, a_blue_na, a_red_q, a_red_na, a_blue_err, a_red_err, '(a)', True,
         0.508, -0.113, -0.133, 0.538, 0.02, 0.065)

ax_b = px_axes(363, 52, 609, 238)
na_panel(ax_b, b_blue_sr, b_blue_na, b_red_sr, b_red_na, b_blue_err, b_red_err, '(b)', False,
         0.512, -0.145, -0.142, 0.53, 0.01, 0.062)

ax_c = px_axes(51, 285, 617, 445)
ts_panel(ax_c, c_day, c_ratio, c_red_day, c_red_ratio, '(c)', 0.486, -0.15, -0.059, 0.906)

ax_d = px_axes(52, 529, 300, 715)
na_panel(ax_d, d_blue_q, d_blue_na, d_red_q, d_red_na, None, None, '(d)', True,
         0.504, -0.118, -0.135, 0.5, 0.005, 0.054)

ax_e = px_axes(363, 522, 608, 708)
na_panel(ax_e, e_blue_sr, e_blue_na, e_red_sr, e_red_na, None, None, '(e)', False,
         0.488, -0.167, -0.141, 0.495, 0.012, 0.054)

ax_f = px_axes(52, 755, 617, 918)
ts_panel(ax_f, f_day, f_ratio, f_red_day, f_red_ratio, '(f)', 0.485, -0.153, -0.061, 0.90)

titles = [fig.text(320 / W, 1 - 14 / H, 'With Ice melt', ha='center', va='center',
                   fontsize=13, fontweight='bold', color='black'),
          fig.text(337.5 / W, 1 - 491 / H, 'Without Ice melt', ha='center', va='center',
                   fontsize=13, fontweight='bold', color='black')]

# underline the section titles
fig.canvas.draw()
inv = fig.transFigure.inverted()
for t in titles:
    bb = t.get_window_extent().transformed(inv)
    y = bb.y0 - 2.5 / H
    fig.add_artist(Line2D([bb.x0, bb.x1], [y, y], transform=fig.transFigure,
                          color='black', linewidth=1.4))

fig.savefig('out.png', dpi=100)
plt.close(fig)
